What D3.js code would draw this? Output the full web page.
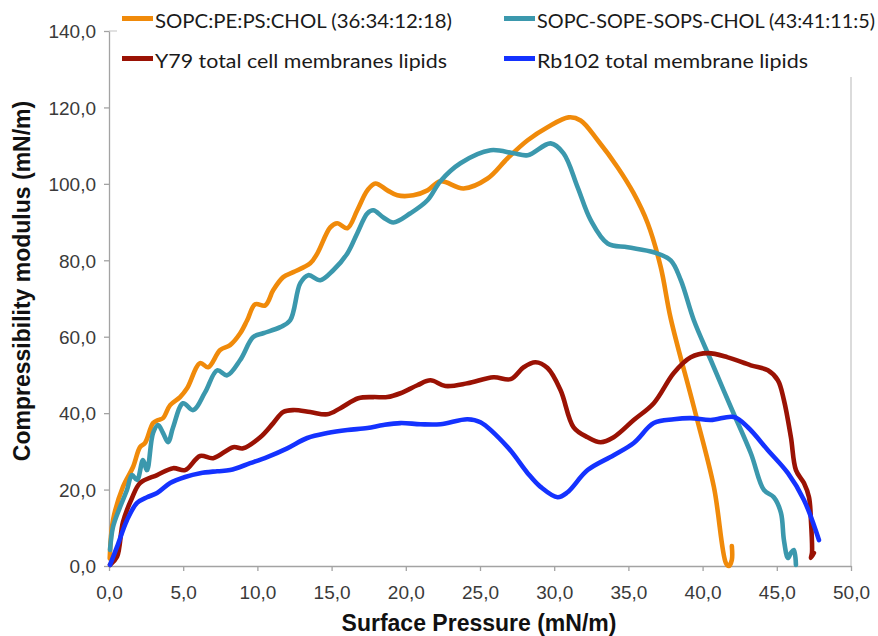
<!DOCTYPE html>
<html>
<head>
<meta charset="utf-8">
<script src="https://cdn.jsdelivr.net/npm/d3@7"></script>
<style>
  body { margin: 0; background: #fff; }
  svg { display: block; }
</style>
</head>
<body>
<svg id="chart" width="878" height="636"></svg>
<script>
// series: [surface pressure, compressibility modulus]
var seriesNames = [
    "SOPC:PE:PS:CHOL (36:34:12:18)",
    "SOPC-SOPE-SOPS-CHOL (43:41:11:5)",
    "Y79 total cell membranes lipids",
    "Rb102 total membrane lipids"
];
var seriesColors = ["#f08a0a", "#3b98ad", "#9a1204", "#1432ff"];

var sopcPePs = [
    [0.05, 2], [0.27, 12.0], [0.94, 20.7], [1.62, 25.9], [2.09, 31.1], [2.43, 32.2], [2.97, 37.4],
    [3.31, 38.2], [3.64, 38.7], [4.12, 42.1], [4.79, 44.2], [5.26, 46.5], [6.14, 53.1], [6.68, 52.0],
    [7.49, 56.5], [8.16, 57.8], [8.84, 60.9], [9.31, 64.3], [9.85, 68.5], [10.53, 68.2], [11.07, 72.2],
    [11.74, 75.6], [12.42, 76.9], [13.56, 79.2], [14.04, 81.8], [14.91, 88.6], [15.38, 89.7],
    [16.06, 88.4], [16.73, 93.1], [17.41, 98.3], [17.95, 100.1], [18.76, 98.3], [19.43, 97.0],
    [20.51, 97.0], [21.46, 98.3], [22.33, 100.7], [23.89, 98.8], [25.51, 101.4], [26.86, 106.7],
    [28.21, 111.4], [29.55, 114.8], [30.97, 117.4], [31.78, 116.6], [32.93, 111.4], [34.28, 104.3],
    [35.36, 97.5], [36.30, 89.7], [37.18, 78.2], [37.85, 64.8], [39.41, 41.6], [40.76, 20.7],
    [41.57, 0.8], [41.77, 0], [41.97, 1.6], [41.97, 5.2]
];
var sopcSope = [
    [0.07, 4.2], [0.27, 10.2], [0.74, 15.4], [1.21, 19.9], [1.55, 23.8], [1.89, 22.5], [2.29, 27.7],
    [2.56, 25.1], [2.97, 34.8], [3.31, 36.9], [3.64, 34.8], [3.98, 32.4], [4.32, 36.3], [4.99, 42.6],
    [5.67, 40.8], [6.48, 45.5], [7.29, 51.2], [7.96, 49.9], [8.84, 53.9], [9.72, 59.9], [10.39, 60.9],
    [11.54, 62.5], [12.21, 64.3], [12.89, 74.0], [13.43, 76.1], [14.24, 74.8], [15.11, 77.4],
    [16.06, 81.8], [16.73, 87.1], [17.41, 92.3], [17.81, 93.1], [18.49, 91.2], [19.16, 89.9],
    [20.31, 92.3], [21.46, 95.7], [22.33, 100.7], [23.68, 105.4], [25.71, 108.8], [27.26, 108.0],
    [28.21, 107.5], [29.76, 110.6], [30.63, 108.0], [31.58, 99.1], [32.46, 90.5], [33.60, 84.4],
    [34.95, 83.4], [36.71, 82.1], [37.85, 80.0], [38.53, 74.8], [39.41, 64.3], [40.55, 53.9],
    [41.90, 41.6], [43.25, 29.5], [44.13, 19.9], [44.80, 18.0], [45.28, 13.9], [45.48, 6.8],
    [45.75, 2.1], [45.95, 3.4], [46.15, 4.2], [46.29, 0.3]
];
var y79 = [
    [0.07, 0.3], [0.54, 2.4], [0.94, 11.5], [1.55, 17.8], [2.09, 21.7], [3.24, 23.8], [4.32, 25.6],
    [5.13, 25.1], [6.14, 28.8], [7.02, 28.2], [8.37, 31.1], [9.04, 30.8], [10.19, 33.7], [11.07, 37.4],
    [11.74, 40.3], [12.42, 40.8], [13.56, 40.3], [14.71, 39.7], [15.59, 41.3], [16.80, 43.9],
    [17.81, 44.2], [18.76, 44.2], [19.64, 45.2], [20.78, 47.3], [21.66, 48.6], [22.67, 47.1],
    [24.16, 47.8], [25.91, 49.4], [27.06, 48.9], [27.94, 52.0], [28.74, 53.3], [29.55, 51.8],
    [30.43, 46.0], [31.31, 36.3], [32.25, 33.7], [33.13, 32.4], [34.01, 33.7], [35.36, 38.2],
    [36.71, 42.6], [38.06, 50.5], [39.20, 54.6], [40.35, 55.7], [41.70, 54.6], [43.25, 52.5],
    [44.40, 51.2], [45.07, 48.6], [45.48, 43.4], [45.95, 33.7], [46.29, 25.1], [46.83, 21.7],
    [47.17, 18.0], [47.30, 12.0], [47.37, 3.4], [47.30, 2.1], [47.50, 3.4]
];
var rb102 = [
    [0.07, 0.3], [0.54, 5.0], [1.21, 12.0], [1.89, 16.5], [2.56, 18.0], [3.24, 19.1], [4.12, 21.7],
    [5.13, 23.3], [6.14, 24.3], [7.29, 24.8], [8.16, 25.1], [9.51, 26.9], [10.66, 28.5], [12.01, 30.8],
    [13.36, 33.5], [14.71, 34.8], [16.06, 35.6], [17.41, 36.1], [18.49, 36.9], [19.64, 37.4],
    [20.99, 37.1], [22.33, 37.1], [24.16, 38.4], [25.03, 37.6], [26.86, 31.1], [28.21, 24.3],
    [29.08, 20.7], [30.23, 18.0], [30.90, 19.3], [32.25, 25.1], [34.01, 29.0], [35.36, 32.2],
    [36.71, 37.4], [38.06, 38.4], [39.20, 38.7], [40.55, 38.2], [42.11, 39.0], [43.05, 36.3],
    [44.40, 30.3], [45.75, 24.3], [46.83, 17.3], [47.84, 6.8]
];
var allSeries = [sopcPePs, sopcSope, y79, rb102];

var xTicks = [0, 5, 10, 15, 20, 25, 30, 35, 40, 45, 50];
var yTicks = [0, 20, 40, 60, 80, 100, 120, 140];
var xTitle = "Surface Pressure (mN/m)";
var yTitle = "Compressibility modulus (mN/m)";

// layout (plotTop etc. - "top" would clash with window.top)
var plotLeft = 109, plotRight = 851, plotTop = 31, plotBottom = 566;
var legendTextWidths = [297, 338, 292, 271];

var svg = d3.select("#chart");
var x = d3.scaleLinear().domain([0, 50]).range([plotLeft, plotRight]);
var y = d3.scaleLinear().domain([0, 140]).range([plotBottom, plotTop]);
var fmt = d => d.toFixed(1).replace(".", ",");

// plot area border (top + right)
svg.append("path")
    .attr("d", `M${plotLeft},${plotTop}H${plotRight}V${plotBottom}`)
    .attr("fill", "none")
    .attr("stroke", "#c4c4c4")
    .attr("stroke-width", 1.2);

var xAxis = svg.append("g")
    .attr("transform", `translate(0,${plotBottom})`)
    .call(d3.axisBottom(x).tickValues(xTicks).tickFormat(fmt).tickSize(5).tickSizeOuter(0));
var yAxis = svg.append("g")
    .attr("transform", `translate(${plotLeft},0)`)
    .call(d3.axisLeft(y).tickValues(yTicks).tickFormat(fmt).tickSize(5).tickSizeOuter(0));

[xAxis, yAxis].forEach(function(g) {
    g.select(".domain").attr("stroke", "#a3a3a3").attr("stroke-width", 1.3);
    g.selectAll(".tick line").attr("stroke", "#a3a3a3").attr("stroke-width", 1.3);
    g.selectAll(".tick text")
        .attr("fill", "#3a3a3a")
        .style("font-family", "'Liberation Sans', Arial, sans-serif")
        .style("font-size", "19px");
});
xAxis.selectAll(".tick text").attr("y", 20).attr("dy", "0.71em");
yAxis.selectAll(".tick text").attr("x", -13).attr("dy", "0.36em");

// curves
var line = d3.line()
    .x(d => x(d[0]))
    .y(d => y(d[1]))
    .curve(d3.curveCatmullRom.alpha(0.5));

svg.append("g")
    .selectAll("path")
    .data(allSeries)
    .enter()
    .append("path")
    .attr("d", line)
    .attr("fill", "none")
    .attr("stroke", (d, i) => seriesColors[i])
    .attr("stroke-width", 4.6)
    .attr("stroke-linejoin", "round")
    .attr("stroke-linecap", "round");

// legend (white box hides the plot border behind it)
svg.append("rect")
    .attr("x", 117).attr("y", 0)
    .attr("width", 878 - 117).attr("height", 77)
    .attr("fill", "#fff");

var legend = svg.append("g")
    .selectAll("g")
    .data(seriesNames)
    .enter()
    .append("g")
    .attr("transform", (d, i) => `translate(${i % 2 === 0 ? 122 : 504},${i < 2 ? 0 : 40})`);

legend.append("line")
    .attr("x1", 0).attr("x2", 31)
    .attr("y1", 18.5).attr("y2", 18.5)
    .attr("stroke", (d, i) => seriesColors[i])
    .attr("stroke-width", 5);

legend.append("text")
    .attr("x", 33)
    .attr("y", 28)
    .attr("textLength", (d, i) => legendTextWidths[i])
    .attr("lengthAdjust", "spacingAndGlyphs")
    .style("font-family", "Lato, 'Open Sans', sans-serif")
    .style("font-size", "19.5px")
    .attr("fill", "#1a1a1a")
    .text(d => d);

// axis titles
svg.append("text")
    .attr("x", (plotLeft + plotRight) / 2 - 1)
    .attr("y", 631)
    .attr("text-anchor", "middle")
    .style("font-family", "'Liberation Sans', Arial, sans-serif")
    .style("font-weight", "bold")
    .style("font-size", "23px")
    .attr("fill", "#111")
    .text(xTitle);

svg.append("text")
    .attr("transform", "translate(30,281) rotate(-90)")
    .attr("text-anchor", "middle")
    .style("font-family", "'Liberation Sans', Arial, sans-serif")
    .style("font-weight", "bold")
    .style("font-size", "23px")
    .attr("fill", "#111")
    .text(yTitle);
</script>
</body>
</html>
